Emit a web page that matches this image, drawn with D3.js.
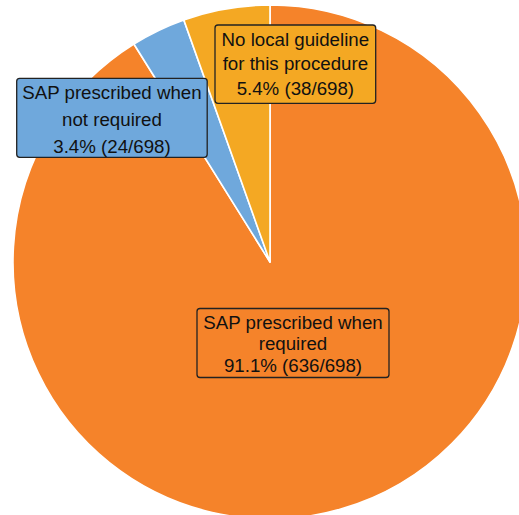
<!DOCTYPE html>
<html>
<head>
<meta charset="utf-8">
<script src="https://cdn.jsdelivr.net/npm/d3@7"></script>
<style>
  html, body { margin: 0; padding: 0; background: #fff; overflow: hidden; }
  svg { display: block; }
</style>
</head>
<body>
<svg id="chart" width="519" height="515"></svg>
<script>
// ---- data ----
const categories = ["SAP prescribed when required", "SAP prescribed when not required", "No local guideline for this procedure"];
const counts = [636, 24, 38];
const total = 698;
const percents = ["91.1%", "3.4%", "5.4%"];
const labelLines = [
  ["SAP prescribed when", "required"],
  ["SAP prescribed when", "not required"],
  ["No local guideline", "for this procedure"]
];
const colors = ["#F5832A", "#6FA8DC", "#F4A823"];

// ---- layout (not data) ----
const cx = 270, cy = 262, radius = 257;
const boxes = [
  { x: 197, y: 308.5, w: 192, h: 69, baselines: [328.5, 350.2, 371.8] },
  { x: 16.7, y: 78.3, w: 190.5, h: 79, baselines: [98.5, 126, 152.7] },
  { x: 215, y: 25, w: 160.7, h: 78.3, baselines: [45.7, 70.2, 95] }
];

const svg = d3.select("#chart");
const g = svg.append("g").attr("transform", `translate(${cx},${cy})`);

const pie = d3.pie().sort(null).value(d => d)(counts);
const arc = d3.arc().innerRadius(0).outerRadius(radius);

g.selectAll("path.slice")
  .data(pie)
  .join("path")
  .attr("class", "slice")
  .attr("d", arc)
  .attr("fill", (d, i) => colors[i])
  .attr("stroke", "#fff")
  .attr("stroke-width", 1.6)
  .attr("stroke-linejoin", "round");

const labels = svg.selectAll("g.label")
  .data(pie)
  .join("g")
  .attr("class", "label");

labels.append("rect")
  .attr("x", (d, i) => boxes[i].x)
  .attr("y", (d, i) => boxes[i].y)
  .attr("width", (d, i) => boxes[i].w)
  .attr("height", (d, i) => boxes[i].h)
  .attr("rx", 3)
  .attr("ry", 3)
  .attr("fill", (d, i) => colors[i])
  .attr("stroke", "#222")
  .attr("stroke-width", 1.3);

labels.each(function(d, i) {
  const lines = labelLines[i].concat([`${percents[i]} (${counts[i]}/${total})`]);
  const b = boxes[i];
  d3.select(this).selectAll("text")
    .data(lines)
    .join("text")
    .attr("x", b.x + b.w / 2)
    .attr("y", (t, j) => b.baselines[j])
    .attr("text-anchor", "middle")
    .attr("font-family", "'Liberation Sans', Arial, sans-serif")
    .attr("font-size", 18.7)
    .attr("fill", "#111")
    .text(t => t);
});
</script>
</body>
</html>
